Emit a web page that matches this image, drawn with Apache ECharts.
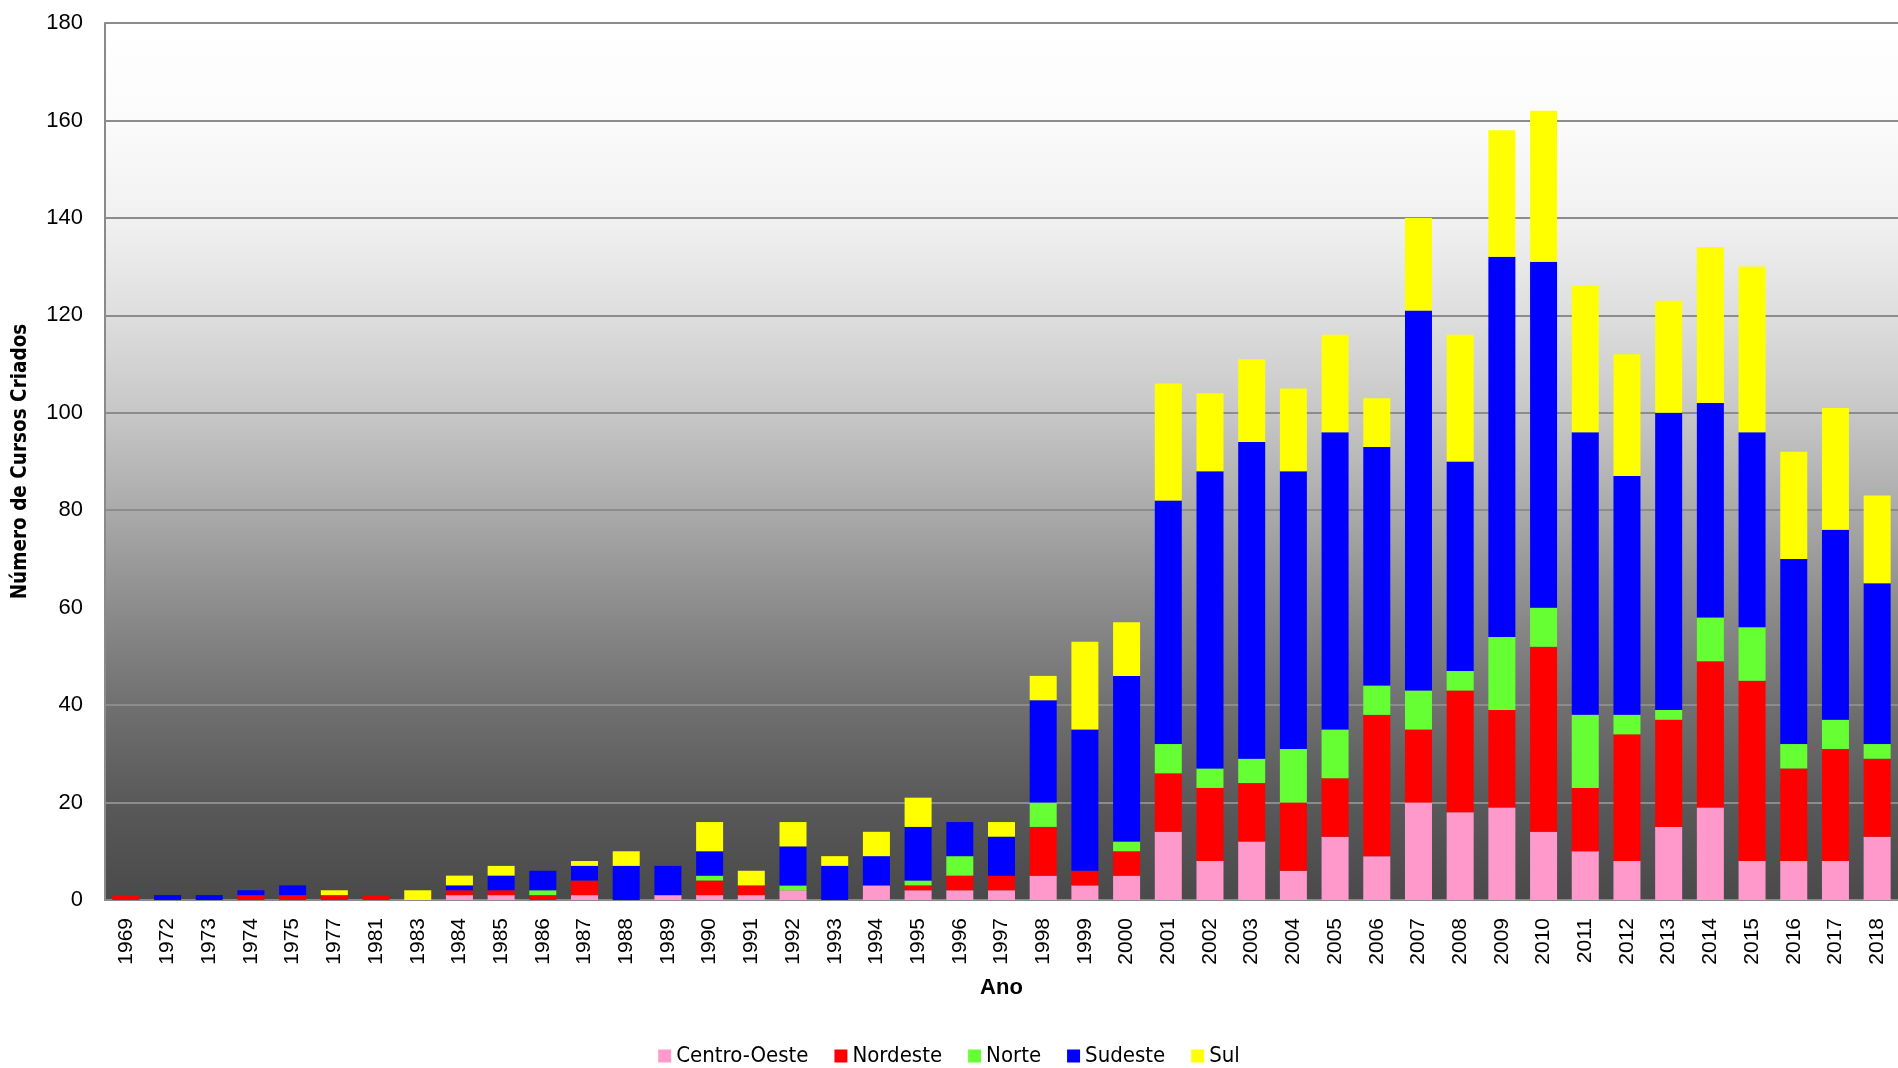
<!DOCTYPE html>
<html>
<head>
<meta charset="utf-8">
<script src="https://cdn.jsdelivr.net/npm/echarts@6/dist/echarts.min.js"></script>
<style>
html,body{margin:0;padding:0;background:#fff;}
#chart{width:1898px;height:1068px;}
</style>
</head>
<body>
<div id="chart"></div>
<script>
const years = ['1969','1972','1973','1974','1975','1977','1981','1983','1984','1985','1986','1987','1988','1989','1990','1991','1992','1993','1994','1995','1996','1997','1998','1999','2000','2001','2002','2003','2004','2005','2006','2007','2008','2009','2010','2011','2012','2013','2014','2015','2016','2017','2018'];
const centroOeste = [0,0,0,0,0,0,0,0,1,1,0,1,0,1,1,1,2,0,3,2,2,2,5,3,5,14,8,12,6,13,9,20,18,19,14,10,8,15,19,8,8,8,13];
const nordeste    = [1,0,0,1,1,1,1,0,1,1,1,3,0,0,3,2,0,0,0,1,3,3,10,3,5,12,15,12,14,12,29,15,25,20,38,13,26,22,30,37,19,23,16];
const norte       = [0,0,0,0,0,0,0,0,0,0,1,0,0,0,1,0,1,0,0,1,4,0,5,0,2,6,4,5,11,10,6,8,4,15,8,15,4,2,9,11,5,6,3];
const sudeste     = [0,1,1,1,2,0,0,0,1,3,4,3,7,6,5,0,8,7,6,11,7,8,21,29,34,50,61,65,57,61,49,78,43,78,71,58,49,61,44,40,38,39,33];
const sul         = [0,0,0,0,0,1,0,2,2,2,0,1,3,0,6,3,5,2,5,6,0,3,5,18,11,24,16,17,17,20,10,19,26,26,31,30,25,23,32,34,22,25,18];
const yTicks = [0,20,40,60,80,100,120,140,160,180];

const seriesNames = ['Centro-Oeste','Nordeste','Norte','Sudeste','Sul'];
const seriesData = [centroOeste, nordeste, norte, sudeste, sul];
const seriesColors = ['#FF99CC','#FF0000','#66FF33','#0000FF','#FFFF00'];

const chart = echarts.init(document.getElementById('chart'), null, {renderer:'canvas'});
const narrow = "'Liberation Sans Narrow','DejaVu Sans Condensed','Liberation Sans',sans-serif";
const sans = "'Liberation Sans',Arial,sans-serif";

chart.setOption({
  animation: false,
  backgroundColor: '#ffffff',
  grid: {
    left: 105, right: -7, top: 23, bottom: 168,
    show: true,
    borderWidth: 0,
    backgroundColor: {
      type: 'linear', x: 0, y: 0, x2: 0, y2: 1,
      colorStops: [
        {offset: 0, color: '#ffffff'},
        {offset: 0.111, color: '#fbfbfb'},
        {offset: 0.222, color: '#f1f1f1'},
        {offset: 0.333, color: '#dedede'},
        {offset: 0.444, color: '#c7c7c7'},
        {offset: 0.556, color: '#aaaaaa'},
        {offset: 0.667, color: '#8c8c8c'},
        {offset: 0.778, color: '#707070'},
        {offset: 0.889, color: '#595959'},
        {offset: 1, color: '#4a4a4a'}
      ]
    }
  },
  legend: {
    bottom: -4,
    left: 'center',
    itemWidth: 13, itemHeight: 13,
    itemGap: 26,
    icon: 'rect',
    textStyle: {fontFamily: narrow, fontSize: 22, color: '#000'},
    data: seriesNames
  },
  xAxis: {
    type: 'category',
    data: years,
    name: 'Ano',
    nameLocation: 'middle',
    nameGap: 77,
    nameTextStyle: {fontFamily: sans, fontWeight: 'bold', fontSize: 22, color: '#000'},
    axisLine: {show: true, lineStyle: {color: '#8a8a8a', width: 2}},
    axisTick: {show: false},
    axisLabel: {rotate: 90, fontFamily: sans, fontSize: 21, color: '#000', margin: 18, interval: 0}
  },
  yAxis: {
    type: 'value',
    min: yTicks[0], max: yTicks[yTicks.length-1], interval: 20,
    name: 'Número de Cursos Criados',
    nameLocation: 'middle',
    nameGap: 74,
    nameTextStyle: {fontFamily: narrow, fontWeight: 'bold', fontSize: 20.5, color: '#000'},
    axisLine: {show: true, lineStyle: {color: '#8a8a8a', width: 2}},
    axisTick: {show: false},
    axisLabel: {fontFamily: sans, fontSize: 22, color: '#000', margin: 22},
    splitLine: {show: true, lineStyle: {color: '#8c8c8c', width: 2}}
  },
  series: seriesNames.map((n, i) => ({
    name: n,
    type: 'bar',
    stack: 'total',
    data: seriesData[i],
    barWidth: 27,
    itemStyle: {color: seriesColors[i]}
  }))
});
</script>
</body>
</html>
